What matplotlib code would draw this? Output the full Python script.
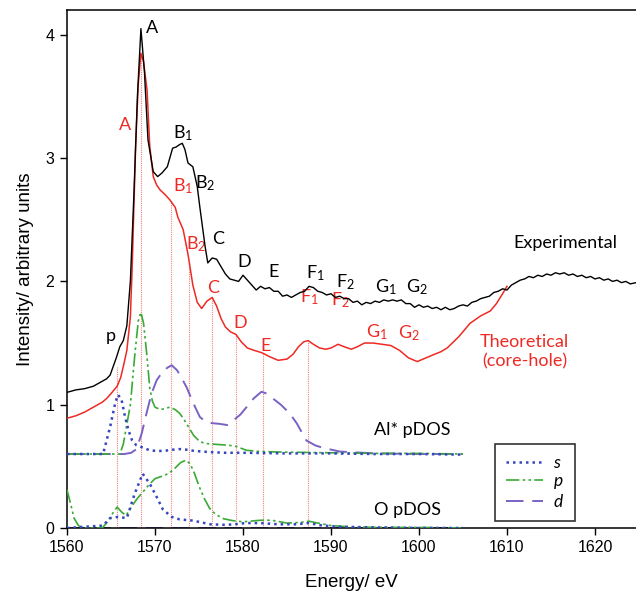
import numpy as np
import matplotlib.pyplot as plt

plt.rcParams['font.family'] = ['Liberation Sans', 'DejaVu Sans']
plt.rcParams['mathtext.fontset'] = 'custom'
plt.rcParams['mathtext.rm'] = 'Lato'
plt.rcParams['mathtext.it'] = 'Lato:italic'

# experimental spectrum
exp_e = [1560, 1561, 1562, 1563, 1564, 1564.5, 1564.9, 1565.2, 1565.6, 1566.0, 1566.4, 1566.8,
         1567.2, 1567.6, 1568.0, 1568.4, 1568.8, 1569.2, 1569.8, 1570.3, 1570.8, 1571.4, 1572.0,
         1572.4, 1572.8, 1573.1, 1573.4, 1573.75, 1574.3, 1574.8, 1575.1, 1575.4, 1575.7, 1576.0,
         1576.5, 1577.0, 1577.5, 1578.0, 1578.5, 1579.0, 1579.5, 1580.0, 1580.5, 1581.0, 1581.5,
         1582.0, 1582.5, 1583.0, 1583.5, 1584.0, 1584.5, 1585.0, 1585.5, 1586.0, 1586.5, 1587.0,
         1587.5, 1588.0, 1588.5, 1589.0, 1589.5, 1590.0, 1590.5, 1591.0, 1591.5, 1592.0, 1592.5,
         1593.0, 1593.5, 1594.0, 1594.5, 1595.0, 1595.5, 1596.0, 1596.5, 1597.0, 1597.5, 1598.0,
         1598.5, 1599.0, 1599.5, 1600.0, 1600.5, 1601.0, 1601.5, 1602.0, 1602.5, 1603.0, 1603.5,
         1604.0, 1604.5, 1605.0, 1605.5, 1606.0, 1606.5, 1607.0, 1607.5, 1608.0, 1608.5, 1609.0,
         1609.5, 1610.0, 1610.5, 1611.0, 1611.5, 1612.0, 1612.5, 1613.0, 1613.5, 1614.0, 1614.5,
         1615.0, 1615.5, 1616.0, 1616.5, 1617.0, 1617.5, 1618.0, 1618.5, 1619.0, 1619.5, 1620.0,
         1620.5, 1621.0, 1621.5, 1622.0, 1622.5, 1623.0, 1623.5, 1624.0, 1624.7]
exp_i = [1.10, 1.12, 1.13, 1.15, 1.19, 1.21, 1.24, 1.30, 1.38, 1.47, 1.52, 1.64,
         2.00, 2.70, 3.50, 4.05, 3.70, 3.15, 2.89, 2.85, 2.88, 2.93, 3.08,
         3.09, 3.11, 3.12, 3.07, 2.96, 2.93, 2.77, 2.60, 2.44, 2.28, 2.15,
         2.19, 2.18, 2.12, 2.06, 2.02, 2.01, 2.00, 2.05, 2.01, 1.97, 1.93,
         1.96, 1.94, 1.95, 1.92, 1.92, 1.88, 1.89, 1.87, 1.89, 1.91, 1.92,
         1.96, 1.95, 1.92, 1.91, 1.89, 1.90, 1.87, 1.88, 1.86, 1.86, 1.83,
         1.84, 1.81, 1.83, 1.82, 1.84, 1.83, 1.85, 1.84, 1.85, 1.84, 1.85,
         1.82, 1.82, 1.79, 1.81, 1.79, 1.80, 1.78, 1.79, 1.77, 1.79, 1.77,
         1.78, 1.80, 1.81, 1.80, 1.83, 1.84, 1.86, 1.87, 1.88, 1.91, 1.92,
         1.94, 1.93, 1.97, 1.99, 2.01, 2.02, 2.04, 2.03, 2.05, 2.04, 2.06,
         2.05, 2.07, 2.06, 2.07, 2.05, 2.06, 2.04, 2.05, 2.03, 2.04, 2.02,
         2.03, 2.01, 2.02, 2.00, 2.01, 1.99, 2.00, 1.98, 1.99]

# theoretical (core-hole) spectrum
theo_e = [1560, 1561, 1562, 1563, 1564, 1564.5, 1565, 1565.7, 1566.1, 1566.4, 1566.8, 1567.2,
          1567.4, 1567.6, 1567.8, 1568.1, 1568.4, 1568.7, 1569.1, 1569.4, 1569.8, 1570.2, 1570.6,
          1571.2, 1571.7, 1572.3, 1572.6, 1573.2, 1573.75, 1574.3, 1574.8, 1575.3, 1575.9, 1576.5,
          1577.0, 1577.5, 1578.0, 1578.6, 1579.2, 1579.8, 1580.5, 1581.3, 1582.2, 1583.0, 1584.0,
          1585.0, 1585.7, 1586.3, 1586.9, 1587.4, 1588.0, 1588.7, 1589.4, 1590.0, 1590.8, 1591.5,
          1592.3, 1593.0, 1593.8, 1594.8, 1595.8, 1596.8, 1597.8, 1598.8, 1599.8, 1600.8, 1601.8,
          1602.5, 1603.2, 1604.5, 1605.8, 1607.0, 1608.1, 1608.8, 1609.5, 1610.0]
theo_i = [0.89, 0.91, 0.94, 0.98, 1.02, 1.05, 1.09, 1.15, 1.22, 1.31, 1.44, 1.71,
          2.10, 2.60, 3.10, 3.60, 3.85, 3.78, 3.55, 3.10, 2.85, 2.78, 2.74,
          2.70, 2.66, 2.60, 2.52, 2.42, 2.22, 1.97, 1.83, 1.78, 1.84, 1.87,
          1.80, 1.70, 1.63, 1.59, 1.57, 1.51, 1.46, 1.44, 1.42, 1.39, 1.36,
          1.37, 1.41, 1.47, 1.51, 1.52, 1.49, 1.46, 1.45, 1.46, 1.49, 1.47,
          1.45, 1.47, 1.50, 1.50, 1.49, 1.48, 1.44, 1.38, 1.35, 1.38, 1.41,
          1.43, 1.46, 1.55, 1.66, 1.72, 1.76, 1.82, 1.90, 1.96]

# Al* partial DOS
al_s_e = [1560, 1564.1, 1564.9, 1565.5, 1565.8, 1566.2, 1566.6, 1567.0, 1567.4, 1567.9, 1568.7,
          1569.4, 1570.2, 1571.0, 1572.0, 1572.8, 1573.6, 1574.5, 1576.3, 1578.0, 1580.0, 1585.0,
          1590.0, 1595.0, 1600.0, 1605.0]
al_s = [0, 0, 0.22, 0.42, 0.48, 0.44, 0.30, 0.19, 0.11, 0.07, 0.05,
        0.03, 0.025, 0.025, 0.035, 0.04, 0.035, 0.025, 0.015, 0.01, 0.01, 0.005,
        0.005, 0.0, 0.0, -0.005]
al_p_e = [1560, 1566.0, 1566.4, 1566.8, 1567.2, 1567.7, 1568.1, 1568.4, 1568.7, 1569.05, 1569.4,
          1569.7, 1570.0, 1570.6, 1571.2, 1571.7, 1572.3, 1572.8, 1573.3, 1573.8, 1574.4, 1575.1,
          1575.8, 1576.6, 1577.6, 1578.5, 1579.3, 1580.4, 1582.0, 1585.0, 1590.0, 1595.0, 1600.0,
          1605.0]
al_p = [0, 0, 0.08, 0.24, 0.40, 0.80, 1.08, 1.15, 1.06, 0.82, 0.54,
        0.43, 0.38, 0.36, 0.37, 0.38, 0.36, 0.33, 0.28, 0.22, 0.15, 0.10,
        0.085, 0.08, 0.075, 0.07, 0.06, 0.03, 0.02, 0.015, 0.01, 0.005, 0.005,
        0.0]
al_d_e = [1560, 1566.5, 1567.3, 1567.9, 1568.5, 1569.0, 1569.6, 1570.2, 1570.8, 1571.4, 1571.9,
          1572.5, 1573.0, 1573.6, 1574.3, 1575.1, 1575.8, 1576.5, 1577.3, 1578.2, 1579.2, 1579.7,
          1580.4, 1581.2, 1582.1, 1582.7, 1583.4, 1584.3, 1585.3, 1586.1, 1587.2, 1588.2, 1589.1,
          1591.0, 1595.0, 1600.0, 1605.0]
al_d = [0, 0, 0.01, 0.04, 0.17, 0.32, 0.49, 0.60, 0.66, 0.70, 0.72,
        0.68, 0.62, 0.54, 0.42, 0.30, 0.26, 0.25, 0.245, 0.235, 0.29, 0.32,
        0.38, 0.45, 0.505, 0.49, 0.45, 0.40, 0.33, 0.25, 0.11, 0.07, 0.05,
        0.02, 0.005, 0.0, 0.0]

# O partial DOS
o_s_e = [1560, 1564.1, 1564.9, 1565.8, 1566.8, 1567.7, 1568.6, 1569.4, 1570.2, 1570.9, 1571.9,
         1572.8, 1574.3, 1576.3, 1578.1, 1580.4, 1582.0, 1584.0, 1586.0, 1587.5, 1589.0, 1591.0,
         1595.0, 1600.0, 1605.0]
o_s = [0, 0.02, 0.08, 0.09, 0.08, 0.28, 0.44, 0.36, 0.25, 0.15, 0.09,
       0.07, 0.06, 0.03, 0.025, 0.04, 0.04, 0.03, 0.03, 0.04, 0.02, 0.01,
       0.005, 0.0, 0.0]
o_p_e = [1560, 1560.4, 1560.8, 1561.3, 1561.8, 1564.0, 1564.6, 1565.2, 1565.7, 1566.2, 1566.7,
         1567.3, 1568.0, 1568.6, 1569.3, 1570.0, 1570.8, 1571.5, 1572.2, 1572.9, 1573.5, 1574.0,
         1574.5, 1575.0, 1575.6, 1576.2, 1576.9, 1577.8, 1578.8, 1580.0, 1581.5, 1582.5, 1583.5,
         1585.0, 1586.5, 1587.5, 1588.5, 1590.0, 1592.0, 1595.0, 1600.0, 1605.0]
o_p = [0.31, 0.20, 0.08, 0.02, 0, 0, 0.05, 0.12, 0.17, 0.13, 0.10,
       0.17, 0.24, 0.29, 0.35, 0.40, 0.42, 0.44, 0.48, 0.53, 0.55, 0.52,
       0.44, 0.34, 0.24, 0.16, 0.11, 0.075, 0.06, 0.05, 0.06, 0.065, 0.06,
       0.04, 0.045, 0.055, 0.04, 0.02, 0.01, 0.005, 0.005, 0.0]
o_d_e = [1560, 1605]
o_d = [0, 0]

al_offset = 0.6

# energies of the labelled features (red dotted markers)
mark_e = [1565.7, 1568.4, 1571.8, 1573.9, 1576.5, 1579.2, 1582.3, 1587.4]

red = '#ee2a24'
c_s, c_p, c_d = '#3545c0', '#3aaa35', '#7a62c4'
ls_s = (0, (1, 1.6))
ls_p = (0, (8, 2, 1.5, 2, 1.5, 2))
ls_d = (0, (9, 4.5))

fig = plt.figure(figsize=(6.36, 5.95), dpi=100)
ax = fig.add_axes([67 / 636, 1 - 528 / 595, (636 - 67) / 636, (528 - 10) / 595])

# dotted markers from 0 up to the curves
tops = list(np.interp(mark_e, theo_e, theo_i))
tops[0] = np.interp(mark_e[0], exp_e, exp_i) - 0.1
for e, t in zip(mark_e, tops):
    ax.plot([e, e], [0, t], color='#f07f7a', lw=0.8, ls=(0, (1, 1)), zorder=1)

# pDOS curves
ax.plot(o_d_e, o_d, color=c_d, ls=ls_d, lw=1.4, zorder=2)
ax.plot(o_p_e, o_p, color=c_p, ls=ls_p, lw=1.2, zorder=3)
ax.plot(o_s_e, o_s, color=c_s, ls=ls_s, lw=1.8, zorder=4)
hd, = ax.plot(al_d_e, np.array(al_d) + al_offset, color=c_d, ls=ls_d, lw=1.4, zorder=2, label='$d$')
hp, = ax.plot(al_p_e, np.array(al_p) + al_offset, color=c_p, ls=ls_p, lw=1.2, zorder=3, label='$p$')
hs, = ax.plot(al_s_e, np.array(al_s) + al_offset, color=c_s, ls=ls_s, lw=1.8, zorder=4, label='$s$')

# spectra
ax.plot(theo_e, theo_i, color=red, lw=1.1, zorder=5)
ax.plot(exp_e, exp_i, color='black', lw=1.0, zorder=6)

ax.set_xlim(1560, 1560 + (636 - 67) / 8.8)
ax.set_ylim(0, (528 - 10) / 123.3)
ax.set_xticks(range(1560, 1621, 10))
ax.set_yticks(range(0, 5))
ax.tick_params(direction='out', length=5, width=1, labelsize=11.5, pad=4)
ax.tick_params(top=False, right=False)
for s in ['left', 'bottom', 'top']:
    ax.spines[s].set_linewidth(1.1)
ax.spines['right'].set_visible(False)

ax.set_xlabel('Energy/ eV', fontsize=13.5, labelpad=13)
ax.set_ylabel('Intensity/ arbitrary units', fontsize=13.5, labelpad=8)

lab = dict(family='Lato', fontsize=13, ha='center', va='center')
black_labels = [('A', 1569.66, 4.055), ('B$_1$', 1573.2, 3.20), ('B$_2$', 1575.7, 2.80),
                ('C', 1577.2, 2.34), ('D', 1580.1, 2.16), ('E', 1583.5, 2.08),
                ('F$_1$', 1588.2, 2.07), ('F$_2$', 1591.6, 1.99), ('G$_1$', 1596.25, 1.955),
                ('G$_2$', 1599.8, 1.955), ('p', 1565.0, 1.56)]
red_labels = [('A', 1566.6, 3.27), ('B$_1$', 1573.2, 2.77), ('B$_2$', 1574.7, 2.30),
              ('C', 1576.6, 1.95), ('D', 1579.7, 1.66), ('E', 1582.6, 1.48),
              ('F$_1$', 1587.5, 1.87), ('F$_2$', 1591.1, 1.85), ('G$_1$', 1595.2, 1.59),
              ('G$_2$', 1598.9, 1.58)]
for t, x, y in black_labels:
    ax.text(x, y, t, color='black', **lab)
for t, x, y in red_labels:
    ax.text(x, y, t, color=red, **lab)

ax.text(1616.6, 2.31, 'Experimental', color='black', **lab)
ax.text(1612.0, 1.43, 'Theoretical\n(core-hole)', color=red, linespacing=1.2, **lab)
ax.text(1599.2, 0.795, 'Al* pDOS', color='black', **lab)
ax.text(1598.75, 0.146, 'O pDOS', color='black', **lab)

leg = ax.legend(handles=[hs, hp, hd], loc='lower left', bbox_to_anchor=(0.752, 0.0135),
                borderaxespad=0, frameon=True, fancybox=False, handlelength=2.1,
                labelspacing=0.1, borderpad=0.65, handletextpad=0.6,
                prop={'family': 'Lato', 'size': 12.5})
leg.get_frame().set_edgecolor('black')
leg.get_frame().set_linewidth(1.2)

fig.savefig('out.png', dpi=100)
